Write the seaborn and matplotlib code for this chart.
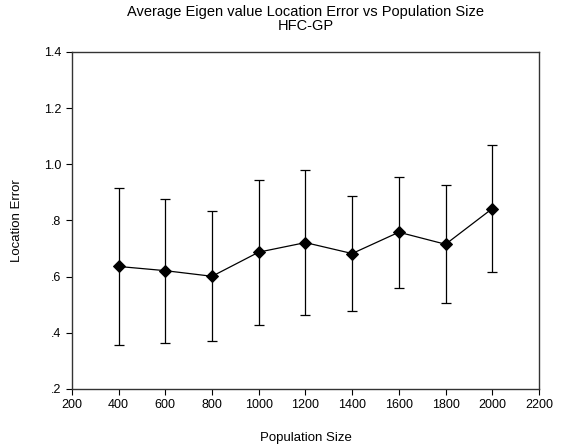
import matplotlib
matplotlib.use("Agg")
import matplotlib.pyplot as plt
import numpy as np
import pandas as pd
import seaborn as sns

# data
population_size = [400, 600, 800, 1000, 1200, 1400, 1600, 1800, 2000]
location_error = [0.636, 0.621, 0.601, 0.687, 0.721, 0.682, 0.758, 0.715, 0.842]
error_upper = [0.916, 0.878, 0.835, 0.943, 0.980, 0.887, 0.955, 0.926, 1.069]
error_lower = [0.358, 0.365, 0.370, 0.429, 0.463, 0.478, 0.560, 0.505, 0.617]
y_ticks = [0.2, 0.4, 0.6, 0.8, 1.0, 1.2, 1.4]
y_tick_labels = [".2", ".4", ".6", ".8", "1.0", "1.2", "1.4"]
x_ticks = [200, 400, 600, 800, 1000, 1200, 1400, 1600, 1800, 2000, 2200]

sns.set_style("ticks")
plt.rcParams["font.family"] = ["Liberation Sans", "DejaVu Sans"]
plt.rcParams["text.color"] = "black"
plt.rcParams["axes.labelcolor"] = "black"

df = pd.DataFrame({"Population Size": population_size, "Location Error": location_error})
mean = np.array(location_error)
yerr = [mean - np.array(error_lower), np.array(error_upper) - mean]

fig = plt.figure(figsize=(5.62, 4.48), dpi=100)
ax = fig.add_axes([0.128, 0.132, 0.831, 0.752])

ax.errorbar(population_size, location_error, yerr=yerr, fmt="none", ecolor="black",
            elinewidth=0.9, capsize=3.3, capthick=0.9, zorder=2)
sns.lineplot(data=df, x="Population Size", y="Location Error", ax=ax, color="black",
             linewidth=0.9, marker="D", markersize=6, markeredgecolor="black", zorder=3)

ax.set_xlim(200, 2200)
ax.set_ylim(0.2, 1.4)
ax.set_xticks(x_ticks)
ax.set_yticks(y_ticks)
ax.set_yticklabels(y_tick_labels)
ax.tick_params(direction="out", length=4, width=0.8, labelsize=9, colors="black")
for s in ax.spines.values():
    s.set_color("#333333")
    s.set_linewidth(1.0)

ax.set_xlabel("Population Size", fontsize=9.5, labelpad=15)
ax.set_ylabel("Location Error", fontsize=9.5, labelpad=15)
ax.set_title("Average Eigen value Location Error vs Population Size\nHFC-GP", fontsize=10.5,
             linespacing=1.0, pad=16, color="black")

fig.savefig("out.png", dpi=100)
